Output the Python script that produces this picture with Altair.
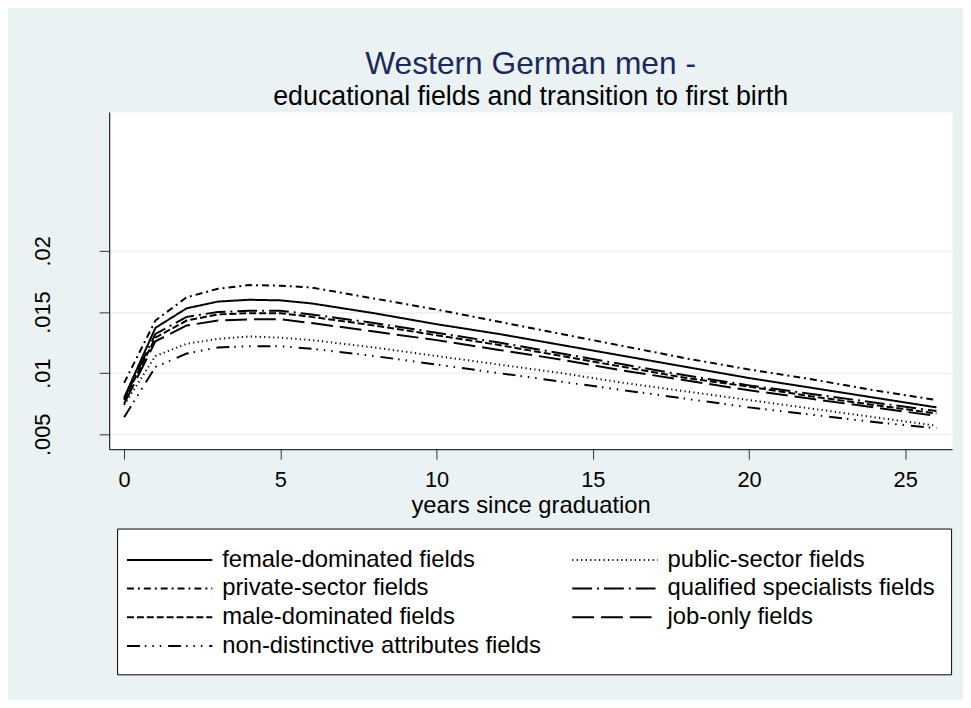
import altair as alt
import pandas as pd

years = [0, 1, 2, 3, 4, 5, 6, 8, 10, 12, 14, 16, 18, 20, 22, 24, 26]

female = [0.0080, 0.0137, 0.0153, 0.01585, 0.0160, 0.01595, 0.0157, 0.0149, 0.0140, 0.0132, 0.0123, 0.0114, 0.0105, 0.0096, 0.0088, 0.0080, 0.0072]
private = [0.0092, 0.0143, 0.0162, 0.0169, 0.0172, 0.01715, 0.0170, 0.0161, 0.0152, 0.0142, 0.0132, 0.0122, 0.0112, 0.0103, 0.0095, 0.0086, 0.0078]
qualified = [0.0079, 0.0132, 0.0146, 0.0150, 0.0151, 0.0151, 0.0148, 0.0141, 0.0133, 0.0125, 0.0116, 0.0107, 0.0098, 0.0090, 0.0083, 0.0076, 0.0069]
male = [0.0078, 0.0129, 0.0143, 0.0148, 0.0149, 0.0149, 0.0146, 0.0139, 0.0131, 0.0123, 0.0114, 0.0105, 0.0096, 0.0089, 0.0081, 0.0074, 0.0067]
job_only = [0.0075, 0.0126, 0.0139, 0.0143, 0.0144, 0.0144, 0.0141, 0.0134, 0.0127, 0.0119, 0.0111, 0.0102, 0.0094, 0.0086, 0.0079, 0.0072, 0.0065]
public = [0.0074, 0.0114, 0.0124, 0.0128, 0.0130, 0.0129, 0.0127, 0.0121, 0.0114, 0.0107, 0.0100, 0.0092, 0.0085, 0.0078, 0.0071, 0.0064, 0.0057]
nondistinctive = [0.0064, 0.0105, 0.0116, 0.0121, 0.0122, 0.0122, 0.0120, 0.0114, 0.0107, 0.0100, 0.0093, 0.0086, 0.0079, 0.0072, 0.0066, 0.0060, 0.0055]

# legend order (column-major in a 2-column legend, as in the original)
series_names = [
    "female-dominated fields",
    "private-sector fields",
    "male-dominated fields",
    "non-distinctive attributes fields",
    "public-sector fields",
    "qualified specialists fields",
    "job-only fields",
]
series_values = [female, private, male, nondistinctive, public, qualified, job_only]
dash_patterns = [
    [1, 0],
    [7, 4, 2, 4],
    [7, 3],
    [13, 5, 1.5, 6, 1.5, 6, 1.5, 7],
    [1.2, 3.3],
    [20, 5, 2, 5],
    [22, 7],
]

x_ticks = [0, 5, 10, 15, 20, 25]
y_ticks = [0.005, 0.01, 0.015, 0.02]

rows = []
for name, vals in zip(series_names, series_values):
    for yr, v in zip(years, vals):
        rows.append({"field": name, "year": yr, "value": v})
df = pd.DataFrame(rows)

FONT = "Liberation Sans"
BG = "#EAF2F3"

chart = alt.Chart(df).mark_line(strokeWidth=2, color="black").encode(
    x=alt.X(
        "year:Q",
        scale=alt.Scale(domain=[-0.48, 26.5], nice=False, zero=False),
        axis=alt.Axis(
            values=x_ticks,
            grid=False,
            title="years since graduation",
            titleFont=FONT,
            titleFontSize=24,
            titleFontWeight="normal",
            titleColor="black",
            titleBaseline="alphabetic",
            titleY=64,
            labelFont=FONT,
            labelFontSize=22,
            labelColor="black",
            labelBaseline="alphabetic",
            labelPadding=28,
            tickSize=10,
            tickColor="#333333",
            domainColor="#333333",
            domainWidth=1.3,
            labelFlush=False,
        ),
    ),
    y=alt.Y(
        "value:Q",
        scale=alt.Scale(domain=[0.00378, 0.03135], nice=False, zero=False),
        axis=alt.Axis(
            values=y_ticks,
            grid=True,
            gridColor=BG,
            gridWidth=1.6,
            title=None,
            labelExpr="slice(format(datum.value, '.3~f'), 1)",
            labelFont=FONT,
            labelFontSize=22,
            labelColor="black",
            labelAngle=270,
            labelAlign="center",
            labelBaseline="alphabetic",
            labelPadding=50,
            tickSize=10,
            tickColor="#333333",
            domainColor="#333333",
            domainWidth=1.3,
            labelFlush=False,
        ),
    ),
    strokeDash=alt.StrokeDash(
        "field:N",
        scale=alt.Scale(domain=series_names, range=dash_patterns),
        legend=alt.Legend(
            title=None,
            orient="none",
            legendX=8,
            legendY=420,
            columns=2,
            symbolType="M-1.5,0H4.5",
            symbolSize=822,
            symbolStrokeWidth=2,
            symbolStrokeColor="black",
            symbolFillColor="transparent",
            labelFont=FONT,
            labelFontSize=24,
            labelColor="black",
            labelLimit=600,
            labelOffset=59,
            columnPadding=26,
            rowPadding=1,
            padding=16,
            strokeColor="black",
            fillColor="white",
        ),
    ),
).properties(
    width=850,
    height=340,
    autosize=alt.AutoSizeParams(type="none"),
    padding={"left": 102, "top": 102, "right": 11, "bottom": 250},
    background=BG,
    title=alt.TitleParams(
        text="Western German men -",
        subtitle="educational fields and transition to first birth",
        font=FONT,
        subtitleFont=FONT,
        fontSize=32,
        subtitleFontSize=27,
        fontWeight="normal",
        color="#1B2A5A",
        subtitleColor="black",
        anchor="middle",
        frame="group",
        offset=1,
        subtitlePadding=3,
    ),
).configure_view(fill="white", stroke="transparent")

chart.save("out.html", embed_options={"renderer": "svg", "actions": False})
